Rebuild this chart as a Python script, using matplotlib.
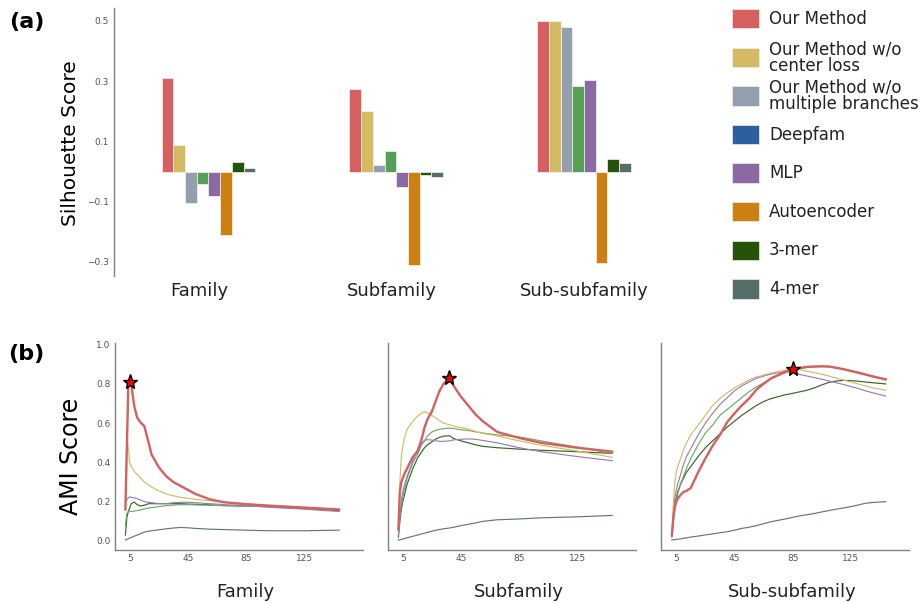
import matplotlib
matplotlib.use('Agg')
import matplotlib.pyplot as plt
from matplotlib.patches import Rectangle


# ---- (a) silhouette scores ----
groups = ['Family', 'Subfamily', 'Sub-subfamily']
methods = ['Our Method', 'Our Method w/o\ncenter loss', 'Our Method w/o\nmultiple branches',
           'Deepfam', 'MLP', 'Autoencoder', '3-mer', '4-mer']
sil_family = [0.31, 0.087, -0.103, -0.042, -0.082, -0.21, 0.031, 0.01]
sil_subfamily = [0.275, 0.202, 0.02, 0.069, -0.05, -0.309, -0.011, -0.019]
sil_subsub = [0.50, 0.50, 0.48, 0.285, 0.305, -0.305, 0.043, 0.027]

bar_colors = ['#d65f5f', '#d4bb62', '#949fad', '#55a055', '#8b6aa3', '#cc8012', '#245407', '#566d68']
legend_colors = ['#d65f5f', '#d4bb62', '#949fad', '#2c5ea0', '#8b6aa3', '#cc8012', '#245407', '#566d68']

# ---- (b) AMI score vs number of clusters ----
k_family = [2, 3, 4, 5, 6, 8, 10, 12, 15, 18, 20, 25, 30, 35, 40, 45, 50, 60, 70, 85, 100, 125, 149]
ami_family = {
    'Our Method': [0.16, 0.48, 0.79, 0.81, 0.80, 0.69, 0.63, 0.607, 0.585, 0.50, 0.44, 0.375, 0.33, 0.30,
                   0.28, 0.26, 0.24, 0.212, 0.197, 0.187, 0.18, 0.17, 0.16],
    'w/o center loss': [0.17, 0.54, 0.47, 0.40, 0.38, 0.355, 0.34, 0.325, 0.30, 0.285, 0.275, 0.255, 0.24,
                        0.23, 0.222, 0.218, 0.212, 0.205, 0.198, 0.19, 0.182, 0.172, 0.16],
    'MLP': [0.20, 0.21, 0.22, 0.225, 0.222, 0.22, 0.215, 0.21, 0.20, 0.197, 0.195, 0.19, 0.19, 0.195,
            0.197, 0.197, 0.195, 0.19, 0.185, 0.18, 0.172, 0.162, 0.15],
    'Deepfam': [0.08, 0.14, 0.15, 0.15, 0.15, 0.152, 0.155, 0.158, 0.163, 0.168, 0.17, 0.175, 0.18, 0.183,
                0.185, 0.185, 0.184, 0.182, 0.18, 0.178, 0.175, 0.168, 0.16],
    '3-mer': [0.03, 0.12, 0.15, 0.17, 0.19, 0.198, 0.186, 0.178, 0.182, 0.19, 0.19, 0.19, 0.19, 0.19,
              0.19, 0.188, 0.187, 0.184, 0.18, 0.178, 0.175, 0.165, 0.155],
    '4-mer': [0.005, 0.008, 0.012, 0.015, 0.018, 0.024, 0.03, 0.036, 0.045, 0.05, 0.052, 0.057, 0.062,
              0.066, 0.069, 0.067, 0.064, 0.06, 0.058, 0.055, 0.052, 0.052, 0.055],
}

k_subfamily = [2, 3, 4, 5, 6, 8, 10, 12, 15, 18, 20, 22, 25, 28, 30, 33, 37, 40, 45, 50, 55, 60, 70, 85,
               100, 125, 149]
ami_subfamily = {
    'Our Method': [0.06, 0.25, 0.30, 0.32, 0.34, 0.37, 0.40, 0.43, 0.455, 0.52, 0.58, 0.62, 0.66, 0.72,
                   0.76, 0.80, 0.828, 0.79, 0.735, 0.69, 0.645, 0.61, 0.555, 0.525, 0.50, 0.475, 0.455],
    'w/o center loss': [0.08, 0.30, 0.43, 0.48, 0.52, 0.57, 0.59, 0.61, 0.635, 0.652, 0.658, 0.652, 0.64,
                        0.625, 0.615, 0.60, 0.592, 0.585, 0.578, 0.57, 0.558, 0.548, 0.535, 0.51, 0.488,
                        0.458, 0.426],
    'MLP': [0.05, 0.14, 0.2, 0.25, 0.28, 0.33, 0.37, 0.41, 0.46, 0.50, 0.513, 0.516, 0.514, 0.51, 0.508,
            0.507, 0.51, 0.515, 0.518, 0.52, 0.518, 0.512, 0.50, 0.475, 0.455, 0.43, 0.409],
    'Deepfam': [0.03, 0.12, 0.18, 0.22, 0.26, 0.32, 0.36, 0.40, 0.44, 0.49, 0.51, 0.535, 0.555, 0.565,
                0.568, 0.572, 0.575, 0.573, 0.567, 0.563, 0.556, 0.55, 0.54, 0.53, 0.51, 0.478, 0.446],
    '3-mer': [0.02, 0.10, 0.16, 0.2, 0.23, 0.29, 0.33, 0.37, 0.42, 0.455, 0.475, 0.49, 0.505, 0.52, 0.527,
              0.534, 0.536, 0.522, 0.51, 0.50, 0.49, 0.482, 0.475, 0.468, 0.462, 0.455, 0.446],
    '4-mer': [0.005, 0.006, 0.008, 0.01, 0.012, 0.016, 0.02, 0.024, 0.03, 0.036, 0.04, 0.044, 0.05, 0.055,
              0.058, 0.062, 0.066, 0.07, 0.078, 0.085, 0.092, 0.1, 0.108, 0.112, 0.118, 0.123, 0.13],
}

k_subsub = [2, 3, 4, 5, 6, 8, 10, 12, 15, 20, 25, 30, 35, 40, 45, 50, 55, 60, 65, 70, 75, 80, 85, 90, 95,
            100, 105, 110, 115, 120, 125, 130, 135, 140, 149]
ami_subsub = {
    'Our Method': [0.03, 0.12, 0.175, 0.20, 0.215, 0.235, 0.25, 0.255, 0.27, 0.35, 0.42, 0.485, 0.54, 0.605,
                   0.65, 0.69, 0.725, 0.77, 0.80, 0.828, 0.845, 0.862, 0.874, 0.882, 0.887, 0.889, 0.89,
                   0.889, 0.882, 0.875, 0.866, 0.857, 0.848, 0.838, 0.823],
    'w/o center loss': [0.03, 0.2, 0.3, 0.35, 0.38, 0.42, 0.465, 0.5, 0.54, 0.59, 0.64, 0.69, 0.725, 0.755,
                        0.78, 0.80, 0.82, 0.835, 0.845, 0.855, 0.863, 0.87, 0.874, 0.872, 0.865, 0.857,
                        0.85, 0.84, 0.83, 0.82, 0.81, 0.80, 0.79, 0.78, 0.768],
    'MLP': [0.03, 0.14, 0.22, 0.26, 0.29, 0.34, 0.39, 0.43, 0.47, 0.54, 0.60, 0.65, 0.695, 0.73, 0.765,
            0.79, 0.81, 0.828, 0.84, 0.85, 0.857, 0.862, 0.862, 0.848, 0.84, 0.832, 0.824, 0.815, 0.806,
            0.797, 0.787, 0.777, 0.765, 0.755, 0.738],
    'Deepfam': [0.03, 0.1, 0.16, 0.2, 0.24, 0.29, 0.33, 0.37, 0.42, 0.49, 0.55, 0.59, 0.64, 0.67, 0.70,
                0.73, 0.76, 0.785, 0.805, 0.825, 0.842, 0.857, 0.868, 0.878, 0.884, 0.887, 0.888, 0.887,
                0.882, 0.876, 0.868, 0.86, 0.85, 0.84, 0.826],
    '3-mer': [0.02, 0.12, 0.18, 0.22, 0.25, 0.29, 0.32, 0.35, 0.38, 0.43, 0.475, 0.51, 0.545, 0.58, 0.61,
              0.64, 0.665, 0.69, 0.71, 0.725, 0.735, 0.745, 0.752, 0.76, 0.768, 0.78, 0.795, 0.808, 0.815,
              0.818, 0.817, 0.814, 0.81, 0.806, 0.80],
    '4-mer': [0.005, 0.006, 0.007, 0.008, 0.009, 0.011, 0.014, 0.016, 0.02, 0.025, 0.031, 0.036, 0.042,
              0.047, 0.055, 0.064, 0.07, 0.078, 0.088, 0.098, 0.105, 0.112, 0.12, 0.128, 0.134, 0.14,
              0.148, 0.155, 0.162, 0.168, 0.175, 0.183, 0.192, 0.196, 0.20],
}
star_k = [5, 37, 85]

line_colors = {'Our Method': '#d65f5f', 'w/o center loss': '#d4bb62', 'MLP': '#9a7dbb',
               'Deepfam': '#6aaa6a', '3-mer': '#2f6b1c', '4-mer': '#5e7a74'}
line_order = ['4-mer', '3-mer', 'Deepfam', 'MLP', 'w/o center loss', 'Our Method']

W, H = 922, 603
SPINE = '#808080'
TICKC = '#555555'


def rect(l, t, r, b):
    return [l / W, 1 - b / H, (r - l) / W, (b - t) / H]


fig = plt.figure(figsize=(W / 100, H / 100), dpi=100)

# top bar chart
ax = fig.add_axes(rect(114, 8, 678, 276))
w = 0.0623
all_vals = [sil_family, sil_subfamily, sil_subsub]
for g, vals in enumerate(all_vals):
    for i, v in enumerate(vals):
        ax.bar(g + (i - 3.5) * w, v, width=w, color=bar_colors[i], edgecolor='#f4f4f4', linewidth=0.5)
ax.set_xlim(-0.503, 2.5)
ax.set_ylim(-0.347, 0.543)
ax.set_yticks([0.5, 0.3, 0.1, -0.1, -0.3])
ax.set_xticks([-0.048, 0.979, 2.0])
ax.set_xticklabels(groups)
ax.tick_params(axis='y', length=0, pad=3.5, labelsize=6.5, labelcolor=TICKC)
ax.tick_params(axis='x', length=0, pad=4, labelsize=13, labelcolor='#222222')
for s in ['top', 'right', 'bottom']:
    ax.spines[s].set_visible(False)
ax.spines['left'].set_color(SPINE)
ax.spines['left'].set_linewidth(1.0)
fig.text(70 / W, 1 - 143.5 / H, 'Silhouette Score', rotation=90, ha='center', va='center', fontsize=14.5)

# legend drawn by hand
for i, (lab, col) in enumerate(zip(methods, legend_colors)):
    c = 18.7 + 38.6 * i
    fig.patches.append(Rectangle((732.3 / W, 1 - (c + 9.7) / H), 26.7 / W, 19.4 / H,
                                 transform=fig.transFigure, facecolor=col,
                                 edgecolor='#eeeeee', linewidth=0.5))
    fig.text(769 / W, 1 - c / H, lab, ha='left', va='center', fontsize=12, linespacing=0.9,
             color='#222222')

# bottom line charts
lefts = [114.5, 387.5, 661]
ks = [k_family, k_subfamily, k_subsub]
amis = [ami_family, ami_subfamily, ami_subsub]
for j in range(3):
    axb = fig.add_axes(rect(lefts[j], 343.3, lefts[j] + 248, 550))
    for name in line_order:
        lw = 1.7 if name == 'Our Method' else 0.85
        axb.plot(ks[j], amis[j][name], color=line_colors[name], linewidth=lw)
    sy = amis[j]['Our Method'][ks[j].index(star_k[j])]
    axb.plot([star_k[j]], [sy], marker='*', markersize=11, markerfacecolor='red',
             markeredgecolor='black', markeredgewidth=1.0, linestyle='none', zorder=5)
    axb.set_xlim(-5.5, 165)
    axb.set_ylim(-0.046, 1.007)
    axb.set_xticks([5, 45, 85, 125])
    axb.set_yticks([0.0, 0.2, 0.4, 0.6, 0.8, 1.0])
    axb.tick_params(length=0, pad=3, labelsize=6.5, labelcolor=TICKC)
    if j > 0:
        axb.set_yticklabels([])
    for s in ['top', 'right']:
        axb.spines[s].set_visible(False)
    for s in ['left', 'bottom']:
        axb.spines[s].set_color(SPINE)
        axb.spines[s].set_linewidth(1.0)
    fig.text((lefts[j] + 131) / W, 1 - 591.7 / H, groups[j], ha='center', va='center', fontsize=13,
             color='#222222')

fig.text(71 / W, 1 - 456 / H, 'AMI Score', rotation=90, ha='center', va='center', fontsize=17)
fig.text(26.7 / W, 1 - 21.7 / H, '(a)', ha='center', va='center', fontsize=16, fontweight='bold')
fig.text(26.7 / W, 1 - 354 / H, '(b)', ha='center', va='center', fontsize=16, fontweight='bold')

fig.savefig('out.png', dpi=100)
